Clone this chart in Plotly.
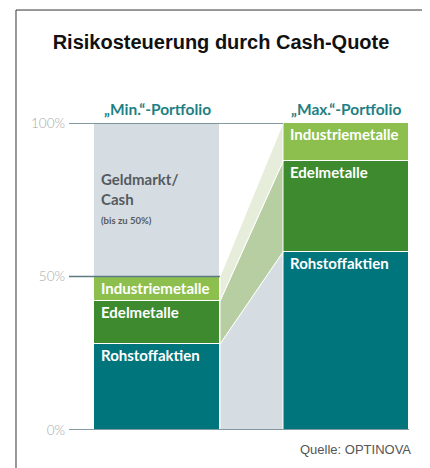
import plotly.graph_objects as go

# ---------------- data ----------------
portfolios = ["„Min.“-Portfolio", "„Max.“-Portfolio"]
segments = ["Rohstoffaktien", "Edelmetalle", "Industriemetalle", "Geldmarkt/Cash"]
min_values = [28, 14, 8, 50]
max_values = [58, 29.5, 12.5, 0]
tick_values = [0, 50, 100]
tick_labels = ["0%", "50%", "100%"]
cash_note = "(bis zu 50%)"
title_text = "Risikosteuerung durch Cash-Quote"
source_text = "Quelle: OPTINOVA"

# ---------------- style ----------------
bar_colors = ["#00757b", "#3d8a2f", "#8dbf4e", "#d5dde3"]
link_colors = ["#d5dde3", "#b6cea2", "#e6eedb", "rgba(255,255,255,0)"]
label_colors = ["white", "white", "white", "#555a5e"]
teal = "#1f7f84"
axis_line = "#5d7a84"
label_font = "Lato"

bar_pos = [0, 1]
bar_w = 0.6667
x_min, x_max = -0.4656, 1.3333

# the page body adds an 8 px offset, so the figure is 8 px smaller
W, H = 422, 460


def cumul(vals):
    lo, out = 0, []
    for v in vals:
        out.append((lo, lo + v))
        lo += v
    return out


cum_min = cumul(min_values)
cum_max = cumul(max_values)

fig = go.Figure()

# stacked bars
for i, seg in enumerate(segments):
    fig.add_trace(go.Bar(
        x=bar_pos, y=[min_values[i], max_values[i]], width=bar_w,
        marker=dict(color=bar_colors[i], line=dict(color="white", width=1)),
        name=seg, showlegend=False, hoverinfo="skip"))

# connector bands between the bars
xl = bar_pos[0] + bar_w / 2
xr = bar_pos[1] - bar_w / 2
for i, seg in enumerate(segments):
    if max_values[i] == 0:
        continue
    (l0, l1), (r0, r1) = cum_min[i], cum_max[i]
    fig.add_trace(go.Scatter(
        x=[xl, xr, xr, xl, xl], y=[l0, r0, r1, l1, l0],
        mode="lines", fill="toself", fillcolor=link_colors[i],
        line=dict(color="white", width=1), showlegend=False, hoverinfo="skip"))

annotations = []
# segment labels
for b, cum in enumerate([cum_min, cum_max]):
    for i, seg in enumerate(segments):
        lo, hi = cum[i]
        if hi - lo <= 0:
            continue
        if seg == "Geldmarkt/Cash":
            annotations.append(dict(
                x=bar_pos[b] - bar_w / 2, y=hi, xref="x", yref="y",
                xanchor="left", yanchor="top", xshift=5, yshift=-45,
                align="left", showarrow=False,
                text="Geldmarkt/<br>Cash<br><span style='font-size:9.5px'>" + cash_note + "</span>",
                font=dict(family=label_font, size=15, color=label_colors[i], weight=700)))
        else:
            annotations.append(dict(
                x=bar_pos[b] - bar_w / 2, y=hi, xref="x", yref="y",
                xanchor="left", yanchor="middle", xshift=5, yshift=-11,
                showarrow=False, text=seg,
                font=dict(family=label_font, size=15, color=label_colors[i], weight=700)))

# portfolio headers
for b, p in enumerate(portfolios):
    annotations.append(dict(
        x=bar_pos[b], y=1.0456, xref="x", yref="paper", xanchor="center",
        yanchor="middle", showarrow=False, text=p,
        font=dict(family=label_font, size=15.5, color=teal, weight=700)))

# source
annotations.append(dict(
    x=1.0118, y=-0.065, xref="paper", yref="paper", xanchor="right",
    yanchor="middle", showarrow=False, text=source_text,
    font=dict(family="Liberation Sans", size=13, color="#555555")))

shapes = [
    dict(type="line", xref="x", yref="y", x0=x_min, x1=bar_pos[1] + bar_w / 2,
         y0=tick_values[0], y1=tick_values[0], line=dict(color=axis_line, width=1.6)),
    dict(type="line", xref="x", yref="y", x0=x_min, x1=bar_pos[0] + bar_w / 2,
         y0=tick_values[1], y1=tick_values[1], line=dict(color=axis_line, width=1.6)),
    dict(type="line", xref="x", yref="y", x0=x_min, x1=bar_pos[1] - bar_w / 2,
         y0=tick_values[2], y1=tick_values[2], line=dict(color=axis_line, width=1.6)),
    # frame
    dict(type="rect", xref="paper", yref="paper", x0=-0.1559, x1=1.0441,
         y0=-0.3, y1=1.368, line=dict(color="#333333", width=1), layer="below"),
]

fig.update_layout(
    width=W, height=H,
    margin=dict(l=61, r=21, t=115, b=38),
    paper_bgcolor="white", plot_bgcolor="white",
    barmode="stack", bargap=0,
    title=dict(text="<b>" + title_text + "</b>", x=(221 - 8) / W, xref="container",
               xanchor="center", y=1 - (42 - 8) / H, yref="container", yanchor="middle",
               font=dict(family="Liberation Sans", size=20, color="#111111")),
    xaxis=dict(range=[x_min, x_max], visible=False, fixedrange=True),
    yaxis=dict(range=[0, 100], tickvals=tick_values, ticktext=tick_labels,
               showgrid=False, zeroline=False, showline=False, ticks="",
               ticklabelstandoff=3,
               tickfont=dict(family=label_font, size=13.5, color="#a8a8a8", weight=300),
               fixedrange=True),
    annotations=annotations, shapes=shapes,
)

fig.write_html("out.html")
